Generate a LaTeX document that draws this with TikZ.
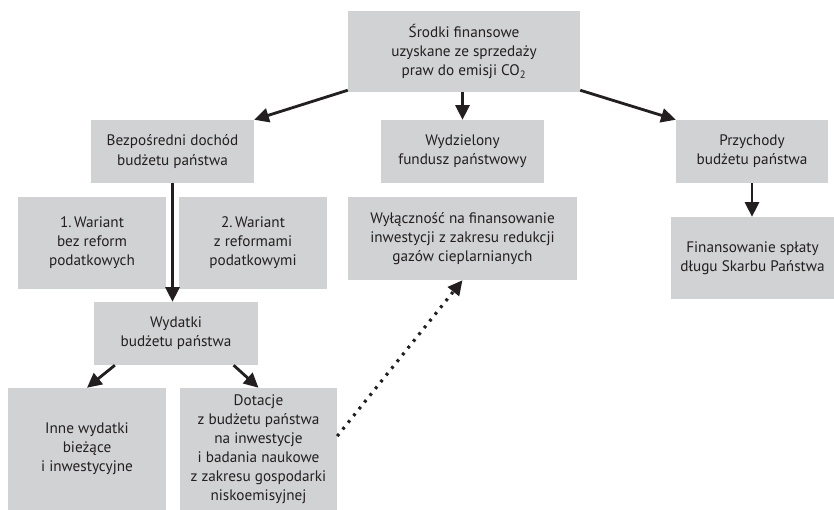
\documentclass[tikz,border=0pt]{standalone}
\usepackage{fontspec}
\setmainfont{PT Sans}
\usetikzlibrary{arrows.meta}
\definecolor{boxgray}{RGB}{209,210,212}
\definecolor{ink}{RGB}{35,31,32}

\begin{document}
\begin{tikzpicture}[x=0.03cm, y=-0.03cm, >={Triangle[length=12.5pt,width=12pt]},
  box/.style 2 args={fill=boxgray, text=ink, align=center, inner sep=0pt,
    minimum width={#1*0.03cm}, minimum height={#2*0.03cm},
    font=\fontsize{13}{16.3}\selectfont},
  arr/.style={->, draw=ink, line width=2.4pt}]
  \useasboundingbox (0,0) rectangle (834,510);
  % source of funds
  \node[box={232}{81}] (top) at (464,51.5) {Środki finansowe\\uzyskane ze sprzedaży\\praw do emisji CO\textsubscript{2}};
  % three ways of using them
  \node[box={163}{63}] (direct) at (172.5,151.5) {Bezpośredni dochód\\budżetu państwa};
  \node[box={163}{63}] (fund) at (462.5,151.5) {Wydzielony\\fundusz państwowy};
  \node[box={152}{63}] (revenue) at (752,151.5) {Przychody\\budżetu państwa};
  % second row
  \node[box={148}{92}] (var1) at (92,243) {1.\,Wariant\\bez reform\\podatkowych};
  \node[box={148}{92}] (var2) at (253,243) {2.\,Wariant\\z reformami\\podatkowymi};
  \node[box={229}{83}] (excl) at (462.5,238.5) {Wyłączność na finansowanie\\inwestycji z zakresu redukcji\\gazów cieplarnianych};
  \node[box={163}{82}] (debt) at (752.5,258) {Finansowanie spłaty\\długu Skarbu Państwa};
  % spending
  \node[box={164}{63}] (spend) at (176,333.5) {Wydatki\\budżetu państwa};
  \node[box={158}{122}] (other) at (87,449) {Inne wydatki\\bieżące\\i inwestycyjne};
  \node[box={157}{122}] (grant) at (258.5,449) {Dotacje\\z budżetu państwa\\na inwestycje\\i badania naukowe\\z zakresu gospodarki\\niskoemisyjnej};
  % arrows
  \draw[arr] ([yshift=1.7pt]top.south west) -- (direct.north east);
  \draw[arr] (fund.north |- top.south) -- (fund.north);
  \draw[arr] ([yshift=1.7pt]top.south east) -- (revenue.north west);
  \draw[arr] (direct.south) -- (direct.south |- spend.north);
  \draw[arr] (revenue.south) -- (revenue.south |- debt.north);
  \draw[arr] ([xshift=18pt]spend.south west) -- (other.north);
  \draw[arr] ([xshift=-21pt]spend.south east) -- (grant.north);
  \draw[arr, line width=2.7pt, dash pattern=on 2.4pt off 5pt] ([yshift=11pt]grant.east) -- (excl.south);
\end{tikzpicture}
\end{document}
